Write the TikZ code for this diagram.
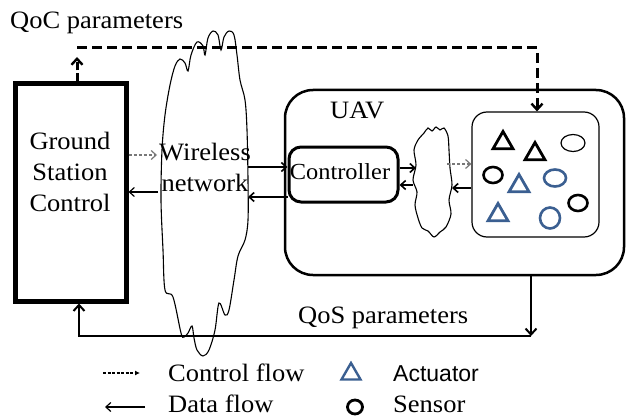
\documentclass[tikz,border=0pt]{standalone}
\usepackage{fontspec}
\setmainfont[FakeStretch=1.06]{Liberation Serif}
\newfontfamily\arialf{Liberation Sans}
\usetikzlibrary{arrows.meta,shapes.geometric,calc}
\definecolor{shapeblue}{RGB}{59,95,145}
\definecolor{flowgray}{RGB}{120,120,120}
\begin{document}
\begin{tikzpicture}[x=1pt,y=-1pt,
  txt/.style={font=\fontsize{25}{31}\selectfont, inner sep=0pt},
  barb/.style={-{Straight Barb[length=5pt,width=9pt,line width=1.6pt]}},
  dataarr/.style={line width=1.8pt, barb},
  thinarr/.style={line width=1.2pt, -{Straight Barb[length=5pt,width=9pt,line width=1.2pt]}},
  ctrlarr/.style={line width=1.4pt, flowgray, dash pattern=on 3pt off 2pt, -{Straight Barb[length=5pt,width=9pt,line width=1.2pt]}},
  qocline/.style={line width=3pt, dash pattern=on 10pt off 5pt},
  cloudline/.style={line width=1.1pt},
  tri/.style={draw, regular polygon, regular polygon sides=3, minimum size=23pt, line width=2.8pt, inner sep=0pt},
  circ/.style={draw, ellipse, minimum width=19pt, minimum height=16pt, line width=2.6pt, inner sep=0pt},
]
\useasboundingbox (0,0) rectangle (628,417);

% Ground station control
\node[draw, line width=5pt, minimum width=111pt, minimum height=217pt] (gsc) at (70.5,192.5) {};
\node[txt, align=center] (gsctext) at (70,172) {Ground\\Station\\Control};

% QoC parameters
\node[txt, anchor=base west] (qoct) at (10,29) {QoC parameters};

% Wireless cloud
\draw[cloudline] plot[smooth cycle, tension=0.55] coordinates {
 (181,333) (173,297) (165,290) (163,250) (161,200) (162,150) (165,115) (170,85)
 (175,66) (180,59) (185,63) (188,71) (191,55) (197,42) (203,46) (205,55)
 (208,38) (213,31) (218,35) (221,50) (224,37) (229,31) (234,35) (237,55)
 (240,80) (245,100) (247,130) (248,180) (248,220) (245,240) (238,256)
 (234,280) (229,310) (225,315) (219,303) (215,330) (209,350) (203,356)
 (197,350) (194,338) (192,326) (188,333) (184,337)};
\node[txt, align=center] (wn) at (205,167) {Wireless\\network};
\coordinate (wl1) at (157,155);
\coordinate (wl2) at (158,192);
\coordinate (wr1) at (248,167);
\coordinate (wr2) at (248,197);

% UAV
\node[draw, rounded corners=28pt, line width=2.5pt, minimum width=339pt, minimum height=185pt] (uav) at (454.5,182.5) {};
\node[txt, anchor=base west] (uavt) at (330,118) {UAV};

% Controller
\node[draw, rounded corners=12pt, line width=3pt, minimum width=109pt, minimum height=55pt] (ctrl) at (343.5,174.5) {};
\node[font=\fontsize{23}{28}\selectfont, inner sep=0pt] (ctrlt) at (340,172) {Controller};

% small cloud
\draw[cloudline] plot[smooth cycle, tension=0.5] coordinates {
 (424,133) (428,128) (432,131) (436,127) (440,130) (444,128) (448,136) (449,150)
 (450,168) (452,185) (449,200) (451,214) (446,227) (440,232) (434,237) (428,231)
 (422,228) (418,218) (415,205) (417,192) (413,180) (416,165) (414,150) (418,140)};
\coordinate (sc1) at (416,168);
\coordinate (sc2) at (413,185);
\coordinate (sc3) at (447,164);
\coordinate (sc4) at (452,188);

% Sensor/actuator box
\node[draw, rounded corners=15pt, line width=1.2pt, minimum width=127pt, minimum height=125pt] (sens) at (535.5,174.5) {};
\node[tri] (a1) at (503,143) {};
\node[tri] (a2) at (535,154) {};
\node[tri, shapeblue] (a3) at (519,186) {};
\node[tri, shapeblue] (a4) at (498,215) {};
\node[draw, ellipse, minimum width=24pt, minimum height=17pt, line width=1.2pt, inner sep=0pt] (s1) at (573,143) {};
\node[circ] (s2) at (493,175) {};
\node[circ, shapeblue, minimum width=22pt, minimum height=17pt] (s3) at (555,178) {};
\node[circ] (s4) at (578,203) {};
\node[circ, shapeblue, minimum width=20pt, minimum height=21pt] (s5) at (550,218) {};

% flows between ground station and wireless network
\draw[ctrlarr] (gsc.east |- wl1) -- (wl1);
\draw[thinarr] (wl2) -- (gsc.east |- wl2);
% wireless network <-> controller
\draw[dataarr] (wr1) -- (ctrl.west |- wr1);
\draw[dataarr] (ctrl.west |- wr2) -- (wr2);
% controller <-> small cloud
\draw[dataarr] (ctrl.east |- sc1) -- (sc1);
\draw[dataarr] (sc2) -- (ctrl.east |- sc2);
% small cloud <-> sensors
\draw[ctrlarr] (sc3) -- (sens.west |- sc3);
\draw[dataarr] (sens.west |- sc4) -- (sc4);

% QoC parameters
\coordinate (qocl) at (77,48);
\coordinate (qocr) at (537,48);
\coordinate (qocup) at (77,57);
\draw[qocline] (qocl) -- (qocr) -- (qocr |- sens.north);
\draw[line width=3pt, dash pattern=on 8pt off 3pt, -{Straight Barb[length=6pt,width=11pt,line width=2.4pt]}] (gsc.north -| qocup) -- (qocup);
\draw[line width=3pt, -{Straight Barb[length=6pt,width=11pt,line width=2.4pt]}] ($(qocr |- sens.north)+(0,-12)$) -- (qocr |- sens.north);

% QoS parameters
\coordinate (qosr) at (531,336);
\coordinate (qosl) at (79,336);
\draw[line width=2.4pt, -{Straight Barb[length=6pt,width=11pt,line width=2pt]}] (uav.south -| qosr) -- (qosr);
\draw[line width=2.4pt, -{Straight Barb[length=6pt,width=11pt,line width=2pt]}] (qosr) -- (qosl) -- (qosl |- gsc.south);
\node[txt, anchor=base west] (qost) at (298,323) {QoS parameters};

% legend
\coordinate (lc1) at (103,373);
\coordinate (lc2) at (140,373);
\draw[line width=1.8pt, dash pattern=on 3pt off 1.5pt, -{Latex[length=5pt,width=5pt]}] (lc1) -- (lc2);
\node[txt, anchor=base west] (lct) at (168,381) {Control flow};
\coordinate (ld1) at (145,407);
\coordinate (ld2) at (105,407);
\draw[thinarr] (ld1) -- (ld2);
\node[txt, anchor=base west] (ldt) at (168,412) {Data flow};
\node[tri, shapeblue, minimum size=22pt, line width=2.4pt] (lat) at (351,374) {};
\node[txt, anchor=base west, font=\arialf\fontsize{23}{28}\selectfont] (lact) at (393,381) {Actuator};
\node[circ, minimum width=15pt, minimum height=14pt, line width=2.8pt] (lst) at (355,407) {};
\node[txt, anchor=base west] (lsent) at (393,412) {Sensor};
\end{tikzpicture}
\end{document}
